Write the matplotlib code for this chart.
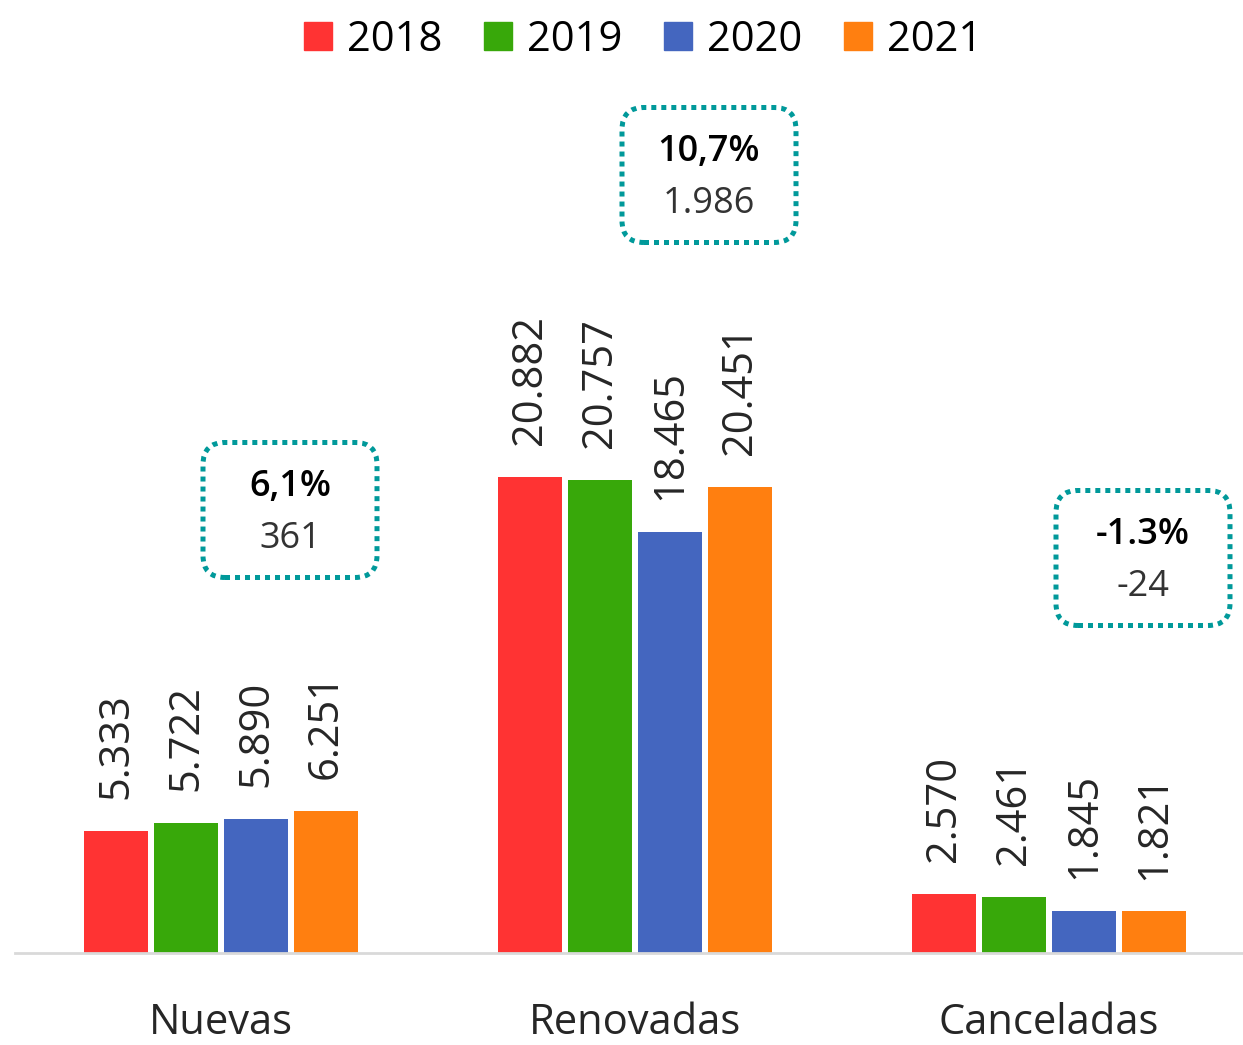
import numpy as np
import matplotlib
matplotlib.use('Agg')
import matplotlib.pyplot as plt
from matplotlib.patches import FancyBboxPatch, Patch

plt.rcParams['font.family'] = ['Open Sans', 'DejaVu Sans']

categories = ['Nuevas', 'Renovadas', 'Canceladas']
years = ['2018', '2019', '2020', '2021']
vals_2018 = [5333, 20882, 2570]
vals_2019 = [5722, 20757, 2461]
vals_2020 = [5890, 18465, 1845]
vals_2021 = [6251, 20451, 1821]
series = [vals_2018, vals_2019, vals_2020, vals_2021]
colors = ['#FF3333', '#38A80A', '#4466BF', '#FF7F10']

# variation 2021 vs 2020, shown in the callouts
change_pct = ['6,1%', '10,7%', '-1.3%']
change_abs = ['361', '1.986', '-24']


def fmt(v):
    return f'{v:,}'.replace(',', '.')


W, H = 1243, 1045
fig = plt.figure(figsize=(W / 100, H / 100), dpi=100)
ax = fig.add_axes([15 / W, 92 / H, 1228 / W, 953 / H])

x = np.arange(len(categories))
step = 70 / 414
width = 64 / 414
for i, vals in enumerate(series):
    pos = x + (i - 1.5) * step
    ax.bar(pos, vals, width, color=colors[i], label=years[i])
    for p, v in zip(pos, vals):
        ax.annotate(fmt(v), (p, v), xytext=(0, 23), textcoords='offset points',
                    rotation=90, ha='center', va='bottom', fontsize=30,
                    color='#262626')

ax.set_xlim(-0.4976, 2.4686)
ax.set_ylim(0, 41807)
for s in ['top', 'left', 'right']:
    ax.spines[s].set_visible(False)
ax.spines['bottom'].set_color('#D9D9D9')
ax.spines['bottom'].set_linewidth(2)
ax.set_yticks([])
ax.set_xticks(x, categories)
ax.tick_params(axis='x', length=0, pad=35, labelsize=30, labelcolor='#262626')

handles = [Patch(color=c, label=y) for c, y in zip(colors, years)]
fig.legend(handles=handles, loc='upper center', bbox_to_anchor=(643 / W, 1.0),
           ncol=4, frameon=False, fontsize=30, handlelength=0.67,
           handleheight=0.67, handletextpad=0.36, columnspacing=1.0,
           borderaxespad=0.05)

# dotted callout boxes (pixel positions -> inches)
box_centers = [(290, 510), (709, 175), (1143, 558)]
bw, bh = 174, 135
for (cx, cy), pct, ab in zip(box_centers, change_pct, change_abs):
    xc, yc = cx / 100, (H - cy) / 100
    box = FancyBboxPatch((xc - bw / 200, yc - bh / 200), bw / 100, bh / 100,
                         boxstyle='round,pad=0,rounding_size=0.22',
                         transform=fig.dpi_scale_trans, fill=False,
                         ec='#00999A', lw=3.6, ls=(0, (1, 1)))
    fig.add_artist(box)
    fig.text(xc, yc + 0.23, pct, transform=fig.dpi_scale_trans, ha='center',
             va='center', fontsize=26, fontweight='semibold', color='black')
    fig.text(xc, yc - 0.29, ab, transform=fig.dpi_scale_trans, ha='center',
             va='center', fontsize=26, color='#333333')

fig.savefig('out.png', dpi=100)
